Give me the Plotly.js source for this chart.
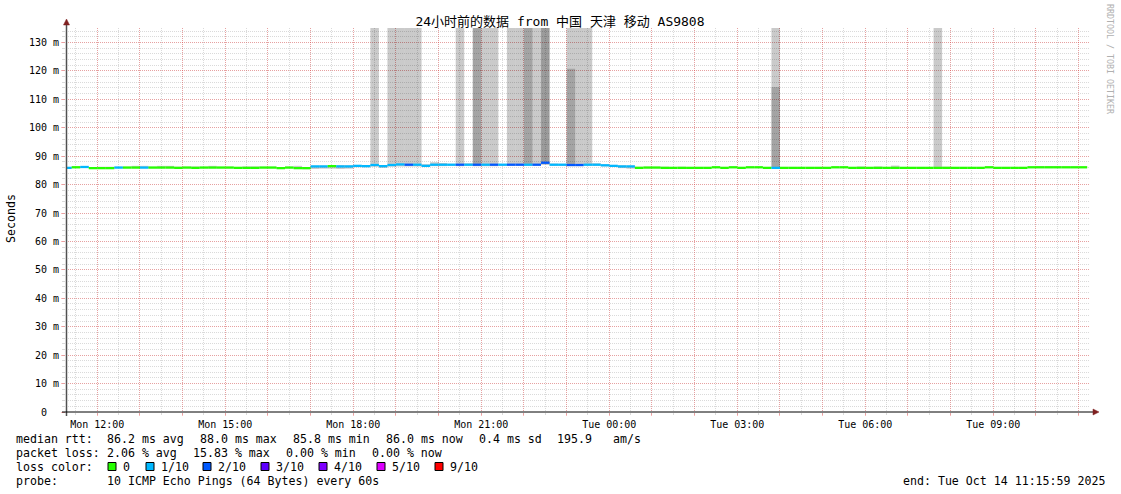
<!DOCTYPE html>
<html><head><meta charset="utf-8">
<script src="https://cdn.plot.ly/plotly-3.0.1.min.js"></script>
<style>html,body{margin:0;padding:0;background:#fff}#chart{width:1121px;height:494px}</style>
</head><body><div id="chart"></div>
<script>
// ---- data (12-minute bins starting Mon 2025-10-13 11:12) ----
const binStartUTC = Date.UTC(2025, 9, 13, 11, 12, 0);
const binMinutes = 12;
const median = [
85.9,86.1,86.2,85.8,85.8,85.8,86.0,86.0,86.0,86.0,
86.0,86.0,86.0,85.9,86.0,85.9,86.0,86.0,86.0,86.0,
85.9,85.9,85.9,86.0,86.0,85.8,86.0,85.8,85.8,86.4,
86.4,86.5,86.4,86.4,86.6,86.5,86.9,86.5,86.9,87.1,
87.0,87.0,86.6,87.0,87.0,87.0,87.0,87.0,87.0,87.0,
87.0,87.0,87.0,87.0,87.0,87.0,87.7,87.0,87.0,86.9,
86.9,87.0,87.0,86.8,86.6,86.4,86.4,85.9,86.0,86.0,
85.9,85.9,85.9,85.9,85.9,85.9,86.1,85.9,86.1,85.9,
86.1,86.1,85.9,85.9,85.9,85.9,85.9,85.9,85.9,85.9,
86.1,86.1,85.9,85.9,85.9,85.9,85.9,85.9,85.9,85.9,
85.9,85.9,85.9,85.9,85.9,85.9,85.9,85.9,86.1,85.9,
85.9,85.9,85.9,86.1,86.1,86.1,86.1,86.1,86.1,86.1];
const lossIdx = [
1,0,1,0,0,0,1,0,0,1,
0,0,0,0,0,0,0,0,0,0,
0,0,0,0,0,0,0,0,0,1,
1,0,1,1,1,1,1,1,1,1,
2,1,1,1,1,1,2,1,2,1,
2,1,2,2,1,2,2,1,1,2,
2,1,1,1,1,1,1,0,0,0,
0,0,0,0,0,0,0,0,0,0,
0,0,0,1,0,0,0,0,0,0,
0,0,0,0,0,0,0,0,0,0,
0,0,0,0,0,0,0,0,0,0,
0,0,0,0,0,0,0,0,0,0];
const smokeLo = [
85.6,85.8,85.9,85.6,85.6,85.6,85.7,85.7,85.7,85.7,
85.7,85.7,85.7,85.6,85.7,85.6,85.7,85.7,85.7,85.7,
85.6,85.6,85.6,85.7,85.7,85.6,85.7,85.6,85.4,85.5,
85.6,85.6,85.5,85.6,86.1,86.1,86.3,85.9,86.3,86.4,
86.4,86.4,86.2,86.5,86.5,86.6,86.5,86.6,86.5,86.5,
86.5,86.6,86.6,86.6,86.6,86.6,87.0,86.6,86.6,86.5,
86.5,86.6,86.6,86.4,86.2,85.8,85.6,85.6,85.7,85.7,
85.6,85.6,85.6,85.6,85.6,85.6,85.8,85.6,85.8,85.6,
85.8,85.8,85.6,85.6,85.6,85.6,85.6,85.6,85.6,85.6,
85.8,85.8,85.6,85.6,85.6,85.6,85.6,85.6,85.6,85.6,
85.6,85.6,85.6,85.6,85.6,85.6,85.6,85.6,85.8,85.6,
85.6,85.6,85.6,85.8,85.8,85.8,85.8,85.8,85.8,85.8];
const smokeHi = [
86.2,86.4,86.4,86.1,86.3,86.3,86.3,86.3,86.6,86.6,
86.3,86.6,86.6,86.3,86.3,86.4,86.3,86.6,86.3,86.3,
86.2,86.4,86.4,86.3,86.3,86.1,86.3,86.6,86.1,86.7,
86.7,86.8,86.9,86.8,86.9,86.8,140,86.9,140,140,
140,140,87.2,87.9,87.6,87.3,140,87.5,140,140,
140,87.3,140,140,140,140,140,87.4,87.3,140,
140,140,87.5,87.1,86.9,86.8,86.7,86.3,86.3,86.3,
86.3,86.1,86.3,86.1,86.1,86.1,86.3,86.1,86.3,86.1,
86.3,86.3,86.1,140,86.1,86.1,86.1,86.1,86.1,86.1,
86.3,86.3,86.1,86.4,86.1,86.4,86.1,86.7,86.1,86.1,
86.1,86.1,140,86.3,86.1,86.1,86.1,86.1,86.3,86.1,
86.1,86.1,86.1,86.3,86.5,86.5,86.5,86.3,86.3,86.3];
// second and third smoke bands (pings 2..9 and 3..8)
const smoke2Bins = [48, 54, 59, 83];
const smoke2Lo = [86.6, 86.7, 86.6, 86.0];
const smoke2Hi = [140, 140, 120.8, 114.3];
const smoke3Bins = [56];
const smoke3Lo = [87.2];
const smoke3Hi = [140];

const lossLabels = ['0','1/10','2/10','3/10','4/10','5/10','9/10'];
const lossColors = ['#26ff00','#00b8ff','#0059ff','#5e00ff','#7e00ff','#dd00ff','#ff0000'];
const xTickLabels = ['Mon 12:00','Mon 15:00','Mon 18:00','Mon 21:00','Tue 00:00','Tue 03:00','Tue 06:00','Tue 09:00'];
const yTickValues = [0,10,20,30,40,50,60,70,80,90,100,110,120,130];
const rttStats = ['86.2 ms avg','88.0 ms max','85.8 ms min','86.0 ms now','0.4 ms sd','195.9','am/s'];
const lossStats = ['2.06 % avg','15.83 % max','0.00 % min','0.00 % now'];
const probeText = '10 ICMP Echo Pings (64 Bytes) every 60s';
const endText = 'end: Tue Oct 14 11:15:59 2025';
const titleText = '24小时前的数据 from 中国 天津 移动 AS9808';

// ---- layout geometry ----
const W = 1121, H = 494;
const M = {l: 66, r: 31, t: 28, b: 82};
const PW = W - M.l - M.r, PH = H - M.t - M.b;
const px = x => (x - M.l) / PW;
const py = y => (M.t + PH - y) / PH;
const mono = 'DejaVu Sans Mono, monospace';
const endUTC = Date.UTC(2025, 9, 14, 11, 15, 59);
const startUTC = endUTC - 24 * 3600 * 1000;
const stepMs = binMinutes * 60000;

const centers = median.map((_, i) => binStartUTC + (i + 0.5) * stepMs);
const pick = (arr, idx) => idx.map(i => arr[i]);

const traces = [
  {type:'bar', x: centers, base: smokeLo, y: smokeHi.map((h,i)=>h - smokeLo[i]),
   width: stepMs, marker:{color:'rgba(0,0,0,0.208)', line:{width:0}}, hoverinfo:'skip'},
  {type:'bar', x: pick(centers, smoke2Bins), base: smoke2Lo, y: smoke2Hi.map((h,i)=>h - smoke2Lo[i]),
   width: stepMs, marker:{color:'rgba(0,0,0,0.19)', line:{width:0}}, hoverinfo:'skip'},
  {type:'bar', x: pick(centers, smoke3Bins), base: smoke3Lo, y: smoke3Hi.map((h,i)=>h - smoke3Lo[i]),
   width: stepMs, marker:{color:'rgba(0,0,0,0.23)', line:{width:0}}, hoverinfo:'skip'},
  {type:'bar', x: centers, base: median.map(v => v - 0.4), y: median.map(() => 0.8),
   width: stepMs, marker:{color: lossIdx.map(k => lossColors[k]), line:{width:0}}, hoverinfo:'skip'}
];

const hourTicks = [], hourText = [];
for (let h = 0; h < 24; h++) {
  hourTicks.push(Date.UTC(2025, 9, 13, 12 + h, 0, 0));
  hourText.push(h % 3 === 0 ? xTickLabels[h / 3] : '');
}

const redGrid = 'rgba(255,40,40,0.32)';
const grayGrid = 'rgba(150,150,150,0.35)';

const annotations = [];
function txt(x, y, text, opts) {
  annotations.push(Object.assign({xref:'paper', yref:'paper', x: px(x), y: py(y), text,
    showarrow:false, xanchor:'left', yanchor:'middle', borderpad:0, borderwidth:0,
    font:{family:mono, size:11.6, color:'#000'}}, opts || {}));
}
const rowY = [438.5, 452.5, 466.5, 480.5];
txt(16, rowY[0], 'median rtt:');
[107, 200, 293, 386, 479, 557, 613].forEach((x, i) => txt(x, rowY[0], rttStats[i]));
txt(16, rowY[1], 'packet loss:');
[107, 193, 286, 372].forEach((x, i) => txt(x, rowY[1], lossStats[i]));
txt(16, rowY[2], 'loss color:');
const boxX = [108, 146, 203, 261, 319, 377, 435];
boxX.forEach((x, i) => txt(x + 15, rowY[2], lossLabels[i]));
txt(16, rowY[3], 'probe:');
txt(107, rowY[3], probeText);
txt(1105, rowY[3], endText, {xanchor:'right'});
txt(11, 219, 'Seconds', {xanchor:'center', textangle:-90});
txt(1110, 59, 'RRDTOOL / TOBI OETIKER', {xanchor:'center', textangle:90,
  font:{family:mono, size:8.3, color:'#b0b0b0'}});

const shapes = [];
boxX.forEach((x, i) => shapes.push({type:'rect', xref:'paper', yref:'paper',
  x0: px(x), x1: px(x + 8), y0: py(rowY[2] + 4), y1: py(rowY[2] - 4),
  fillcolor: lossColors[i], line:{color:'#000', width:1}}));
// axis lines and arrows
shapes.push({type:'line', xref:'paper', yref:'paper', x0: px(66.5), x1: px(66.5), y0: py(416), y1: py(23),
  line:{color:'#505050', width:1.5}});
shapes.push({type:'line', xref:'paper', yref:'paper', x0: px(62), x1: px(1094), y0: py(412), y1: py(412),
  line:{color:'#000', width:1}});
function tri(pts) {
  return 'M' + pts.map(p => px(p[0]) + ',' + py(p[1])).join(' L') + ' Z';
}
shapes.push({type:'path', xref:'paper', yref:'paper', path: tri([[63.5,25],[69.5,25],[66.5,19]]),
  fillcolor:'#7f2020', line:{color:'#7f2020', width:0.5}});
shapes.push({type:'path', xref:'paper', yref:'paper', path: tri([[1093,409],[1093,415],[1099,412]]),
  fillcolor:'#7f2020', line:{color:'#7f2020', width:0.5}});

const layout = {
  width: W, height: H, margin: M, paper_bgcolor:'#fff', plot_bgcolor:'#fff',
  showlegend:false, barmode:'overlay',
  title:{text: titleText, x: 560 / W, xref:'container', xanchor:'center',
         y: 1 - 21 / H, yref:'container', yanchor:'middle',
         font:{family:'DejaVu Sans Mono, Noto Sans CJK SC, monospace', size:13, color:'#000'}},
  xaxis:{type:'date', range:[startUTC, endUTC], tickmode:'array', tickvals: hourTicks, ticktext: hourText,
    showgrid:true, gridcolor: redGrid, griddash:'1px,1px', gridwidth:1,
    ticks:'outside', ticklen:3, tickcolor: redGrid, showline:false, zeroline:false,
    tickfont:{family:mono, size:10, color:'#000'},
    minor:{tickmode:'linear', tick0: Date.UTC(2025,9,13,11,30,0), dtick: 1800000,
      showgrid:true, gridcolor: grayGrid, griddash:'1px,1px', gridwidth:1,
      ticks:'outside', ticklen:2, tickcolor: grayGrid}},
  yaxis:{range:[0, 135.1], tickmode:'array', tickvals: yTickValues,
    ticktext: yTickValues.map(v => v === 0 ? '0\u00a0\u00a0' : v + ' m'),
    showgrid:true, gridcolor: redGrid, griddash:'1px,1px', gridwidth:1, zeroline:false,
    ticks:'outside', ticklen:4, tickcolor: redGrid, showline:false,
    tickfont:{family:mono, size:10, color:'#000'},
    minor:{tickmode:'linear', tick0:0, dtick:2, showgrid:true, gridcolor: grayGrid,
      griddash:'1px,1px', gridwidth:1, ticks:'outside', ticklen:3, tickcolor: grayGrid}},
  annotations, shapes
};
Plotly.newPlot('chart', traces, layout, {staticPlot:true, displayModeBar:false});
</script></body></html>
